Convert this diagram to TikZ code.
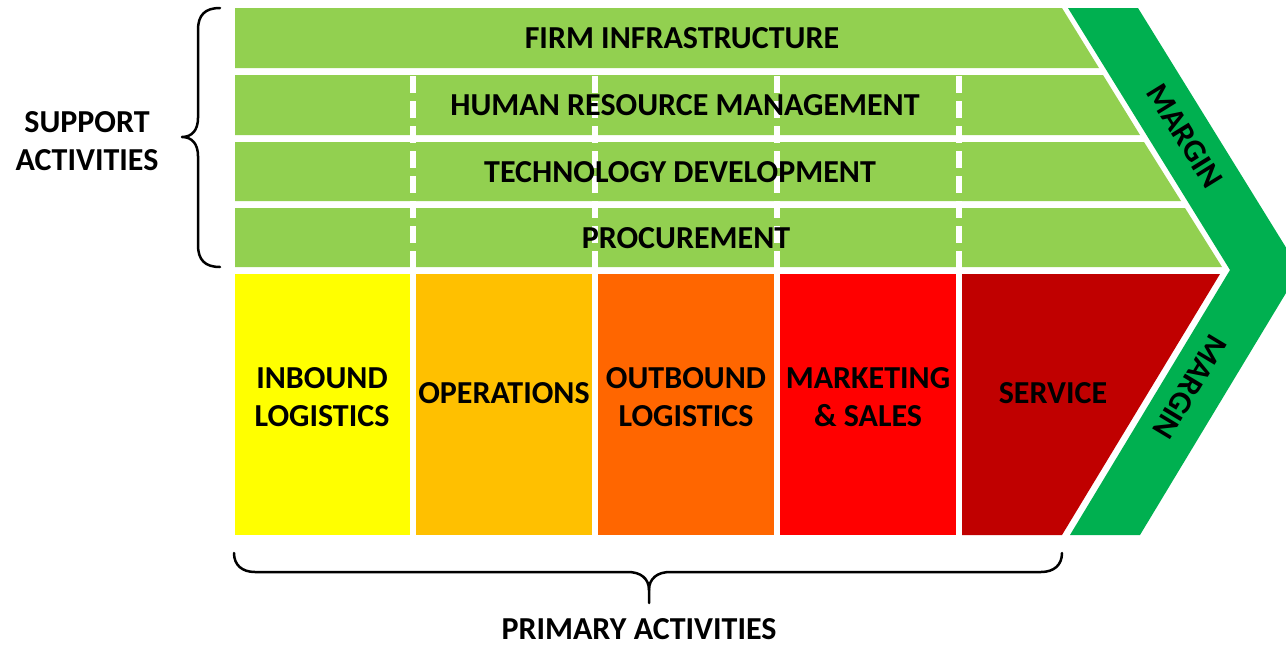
\documentclass[tikz,border=0pt]{standalone}
\usepackage{fontspec}
\setmainfont{Carlito}
\definecolor{lgreen}{HTML}{92D050}
\definecolor{dgreen}{HTML}{00B050}
\definecolor{cyellow}{HTML}{FFFF00}
\definecolor{corange}{HTML}{FFC000}
\definecolor{cdorange}{HTML}{FF6600}
\definecolor{cred}{HTML}{FF0000}
\definecolor{cdred}{HTML}{C00000}
\begin{document}
\begin{tikzpicture}[x=1pt,y=-1pt,
  lbl/.style={font=\fontsize{32}{38}\selectfont\bfseries, text=black, inner sep=0pt, align=center},
  brace/.style={draw=black, line width=2.5pt, line cap=round, line join=round},
  sep/.style={draw=white, line width=6pt, dash pattern=on 17pt off 8pt}]
\useasboundingbox (0,0) rectangle (1286,645);
% support rows
\fill[lgreen] (235,8) -- (1062,8) -- (1099,68) -- (235,68) -- cycle;
\fill[lgreen] (235,75) -- (1103,75) -- (1140,135) -- (235,135) -- cycle;
\fill[lgreen] (235,142) -- (1144,142) -- (1181,201) -- (235,201) -- cycle;
\fill[lgreen] (235,208) -- (1185,208) -- (1222,267) -- (235,267) -- cycle;
% primary columns
\fill[cyellow] (235,274) rectangle (410,535);
\fill[corange] (416,274) rectangle (592,535);
\fill[cdorange] (598,274) rectangle (774,535);
\fill[cred] (780,274) rectangle (956,535);
\fill[cdred] (962,274) -- (1220,274) -- (1062,535) -- (962,535) -- cycle;
% margin chevron
\fill[dgreen] (1068,8) -- (1138,8) -- (1286,247.5) -- (1286,293) -- (1140,535) -- (1070,535) -- (1230,270) -- cycle;
% dashed separators
\foreach \x in {413,595,777,959} \draw[sep] (\x,76) -- (\x,274);
% texts
\node[lbl] (firm) at (682,38) {FIRM INFRASTRUCTURE};
\node[lbl] (hrm) at (685,105) {HUMAN RESOURCE MANAGEMENT};
\node[lbl] (tech) at (680,172) {TECHNOLOGY DEVELOPMENT};
\node[lbl] (proc) at (686,238) {PROCUREMENT};
\node[lbl] (inb) at (322,397) {INBOUND\\LOGISTICS};
\node[lbl] (ops) at (504,393) {OPERATIONS};
\node[lbl] (outb) at (686,397) {OUTBOUND\\LOGISTICS};
\node[lbl] (mkt) at (868,397) {MARKETING\\\& SALES};
\node[lbl] (serv) at (1053,393) {SERVICE};
\node[lbl, rotate=-58.3] (m1) at (1185,136) {MARGIN};
\node[lbl, rotate=-121] (m2) at (1190,387) {MARGIN};
\node[lbl] (supp) at (87,141) {SUPPORT\\ACTIVITIES};
\node[lbl] (prim) at (639,629) {PRIMARY ACTIVITIES};
% braces
\draw[brace] (220,8) .. controls (205,8) and (198,15) .. (198,30) -- (198,118)
  .. controls (198,130) and (192,137) .. (182,137)
  .. controls (192,137) and (198,144) .. (198,156) -- (198,245)
  .. controls (198,260) and (205,267) .. (220,267);
\draw[brace] (234,553) .. controls (234,565) and (242,572) .. (255,572) -- (628,572)
  .. controls (640,572) and (649,578) .. (649,590) -- (649,603);
\draw[brace] (1062,553) .. controls (1062,565) and (1054,572) .. (1041,572) -- (670,572)
  .. controls (658,572) and (649,578) .. (649,590);
\end{tikzpicture}
\end{document}
